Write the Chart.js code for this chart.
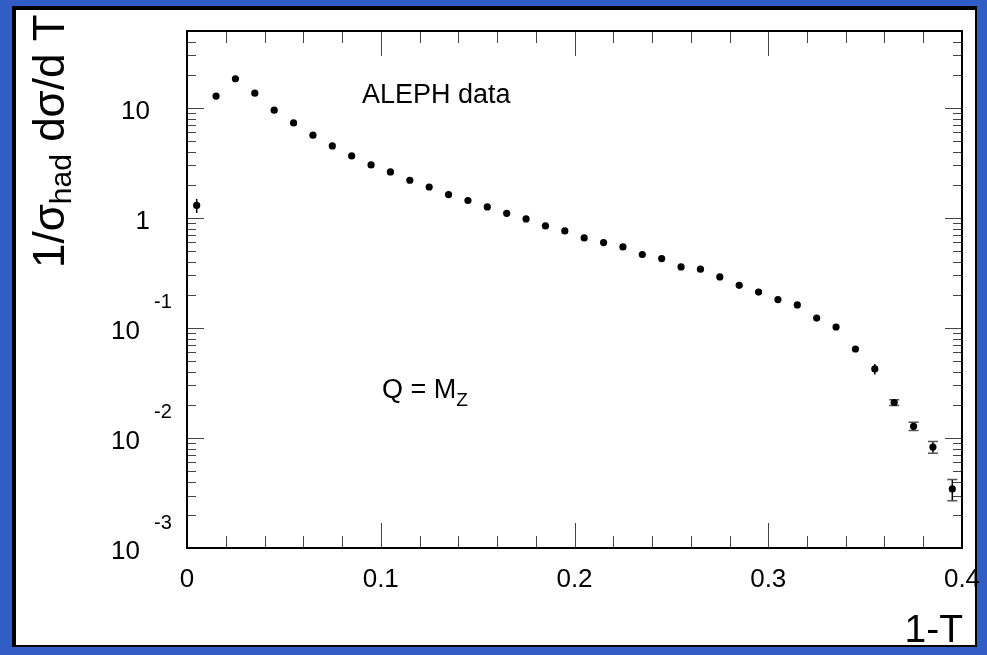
<!DOCTYPE html>
<html>
<head>
<meta charset="utf-8">
<script src="https://cdn.jsdelivr.net/npm/chart.js@4.4.1/dist/chart.umd.min.js"></script>
<style>
  html, body { margin: 0; padding: 0; background: #325dc5; overflow: hidden; }
  #panel {
    position: absolute; left: 12px; top: 6px; width: 959px; height: 635px;
    background: #fff;
    border-left: 4px solid #000; border-top: 4px solid #000;
    border-right: 2px solid #000; border-bottom: 2px solid #000;
  }
  #thrust { position: absolute; left: 0; top: 0; }
</style>
</head>
<body>
<div id="panel"></div>
<canvas id="thrust" width="987" height="655"></canvas>
<script>
// bin centres of 1-T
const binCentres = [0.005, 0.015, 0.025, 0.035, 0.045, 0.055, 0.065, 0.075, 0.085, 0.095,
  0.105, 0.115, 0.125, 0.135, 0.145, 0.155, 0.165, 0.175, 0.185, 0.195,
  0.205, 0.215, 0.225, 0.235, 0.245, 0.255, 0.265, 0.275, 0.285, 0.295,
  0.305, 0.315, 0.325, 0.335, 0.345, 0.355, 0.365, 0.375, 0.385, 0.395];

// 1/sigma dsigma/dT
const alephValues = [1.30, 12.8, 18.4, 13.6, 9.53, 7.31, 5.65, 4.51, 3.66, 3.03,
  2.62, 2.20, 1.91, 1.63, 1.44, 1.26, 1.10, 0.98, 0.846, 0.762,
  0.658, 0.597, 0.545, 0.465, 0.427, 0.359, 0.342, 0.291, 0.244, 0.212,
  0.181, 0.162, 0.123, 0.102, 0.0644, 0.0424, 0.0210, 0.01277, 0.00828, 0.00344];

// errors (only visible ones)
const alephErrors = [0.19, 0, 0, 0, 0, 0, 0, 0, 0, 0,
  0, 0, 0, 0, 0, 0, 0, 0, 0, 0,
  0, 0, 0, 0, 0, 0, 0, 0, 0, 0,
  0, 0, 0, 0, 0, 0.0047, 0.0013, 0.0011, 0.0010, 0.00075];

const xMajorTicks = [0, 0.1, 0.2, 0.3, 0.4];
const xTickLabels = ['0', '0.1', '0.2', '0.3', '0.4'];
const yDecades = [10, 1, 0.1, 0.01, 0.001];
const yTickBase = ['10', '1', '10', '10', '10'];
const yTickExp = ['', '', '-1', '-2', '-3'];

const FONT = '"Liberation Sans", Arial, Helvetica, sans-serif';

const errorBars = {
  id: 'errorBars',
  beforeDatasetsDraw(chart) {
    const { ctx, scales: { x, y } } = chart;
    ctx.save();
    alephValues.forEach((v, i) => {
      const e = alephErrors[i];
      if (!e) return;
      const px = x.getPixelForValue(binCentres[i]);
      const top = y.getPixelForValue(v + e);
      const bot = y.getPixelForValue(v - e);
      ctx.strokeStyle = '#000';
      ctx.lineWidth = 1.5;
      ctx.beginPath();
      ctx.moveTo(px, top); ctx.lineTo(px, bot);
      ctx.stroke();
      if (i >= 36) {
        ctx.strokeStyle = '#555';
        ctx.lineWidth = 1.5;
        ctx.beginPath();
        ctx.moveTo(px - 5, top); ctx.lineTo(px + 5, top);
        ctx.moveTo(px - 5, bot); ctx.lineTo(px + 5, bot);
        ctx.stroke();
      }
    });
    ctx.restore();
  }
};

const rootFrame = {
  id: 'rootFrame',
  afterDraw(chart) {
    const { ctx, chartArea: a, scales: { x, y } } = chart;
    ctx.save();

    // ticks
    ctx.strokeStyle = '#444';
    ctx.lineWidth = 1;
    ctx.beginPath();
    for (let k = 1; k < 20; k++) {
      const px = Math.round(x.getPixelForValue(k * 0.02)) + 0.5;
      const len = k % 5 === 0 ? 25 : 12;
      ctx.moveTo(px, a.bottom); ctx.lineTo(px, a.bottom - len);
      ctx.moveTo(px, a.top); ctx.lineTo(px, a.top + len);
    }
    for (let d = 0.001; d < 60; d *= 10) {
      for (let m = 1; m <= 9; m++) {
        const v = d * m;
        if (v <= y.min * 1.0001 || v > y.max) continue;
        const py = Math.round(y.getPixelForValue(v)) + 0.5;
        const len = m === 1 ? 17 : 9;
        ctx.moveTo(a.left, py); ctx.lineTo(a.left + len, py);
        ctx.moveTo(a.right, py); ctx.lineTo(a.right - len, py);
      }
    }
    ctx.stroke();

    // frame
    ctx.strokeStyle = '#000';
    ctx.lineWidth = 2;
    ctx.strokeRect(a.left, a.top, a.right - a.left, a.bottom - a.top);

    ctx.fillStyle = '#000';
    // x labels
    ctx.font = '26px ' + FONT;
    ctx.textAlign = 'center';
    ctx.textBaseline = 'middle';
    xMajorTicks.forEach((v, i) => {
      ctx.fillText(xTickLabels[i], x.getPixelForValue(v), a.bottom + 32);
    });

    // y labels
    yDecades.forEach((v, i) => {
      const py = y.getPixelForValue(v);
      ctx.font = '26px ' + FONT;
      ctx.textBaseline = 'middle';
      if (yTickExp[i]) {
        ctx.textAlign = 'right';
        ctx.fillText(yTickBase[i], 140, py + 4);
        ctx.font = '20px ' + FONT;
        ctx.textAlign = 'left';
        ctx.fillText(yTickExp[i], 154, py - 25);
      } else {
        ctx.textAlign = 'right';
        ctx.fillText(yTickBase[i], 150, py + 4);
      }
    });

    // axis titles
    ctx.textBaseline = 'alphabetic';
    ctx.textAlign = 'right';
    ctx.font = '39px ' + FONT;
    ctx.fillText('1-T', 963, 642);

    ctx.save();
    ctx.translate(64, 268);
    ctx.rotate(-Math.PI / 2);
    ctx.textAlign = 'left';
    ctx.font = '44px ' + FONT;
    let cx = 0;
    ctx.fillText('1/\u03c3', cx, 0);
    cx += ctx.measureText('1/\u03c3').width;
    ctx.font = '30px ' + FONT;
    ctx.fillText('had', cx, 7);
    cx += ctx.measureText('had').width;
    ctx.font = '44px ' + FONT;
    ctx.fillText(' d\u03c3/d T', cx, 0);
    ctx.restore();

    // annotations
    ctx.textAlign = 'left';
    ctx.font = '27px ' + FONT;
    ctx.fillText('ALEPH data', 362, 103);
    ctx.fillText('Q = M', 382, 398);
    const qw = ctx.measureText('Q = M').width;
    ctx.font = '19px ' + FONT;
    ctx.fillText('Z', 382 + qw, 406);

    ctx.restore();
  }
};

new Chart(document.getElementById('thrust'), {
  type: 'scatter',
  data: {
    datasets: [{
      label: 'ALEPH data',
      data: binCentres.map((xv, i) => ({ x: xv, y: alephValues[i] })),
      backgroundColor: '#000',
      borderColor: '#000',
      pointRadius: 3.6,
      pointBorderWidth: 0,
      pointHoverRadius: 3.6
    }]
  },
  options: {
    responsive: false,
    animation: false,
    layout: {
      padding: { left: 187, top: 31, right: 25, bottom: 107 }
    },
    scales: {
      x: { type: 'linear', min: 0, max: 0.4, display: false },
      y: { type: 'logarithmic', min: 0.001, max: 50, display: false }
    },
    plugins: {
      legend: { display: false },
      tooltip: { enabled: false }
    }
  },
  plugins: [errorBars, rootFrame]
});
</script>
</body>
</html>
